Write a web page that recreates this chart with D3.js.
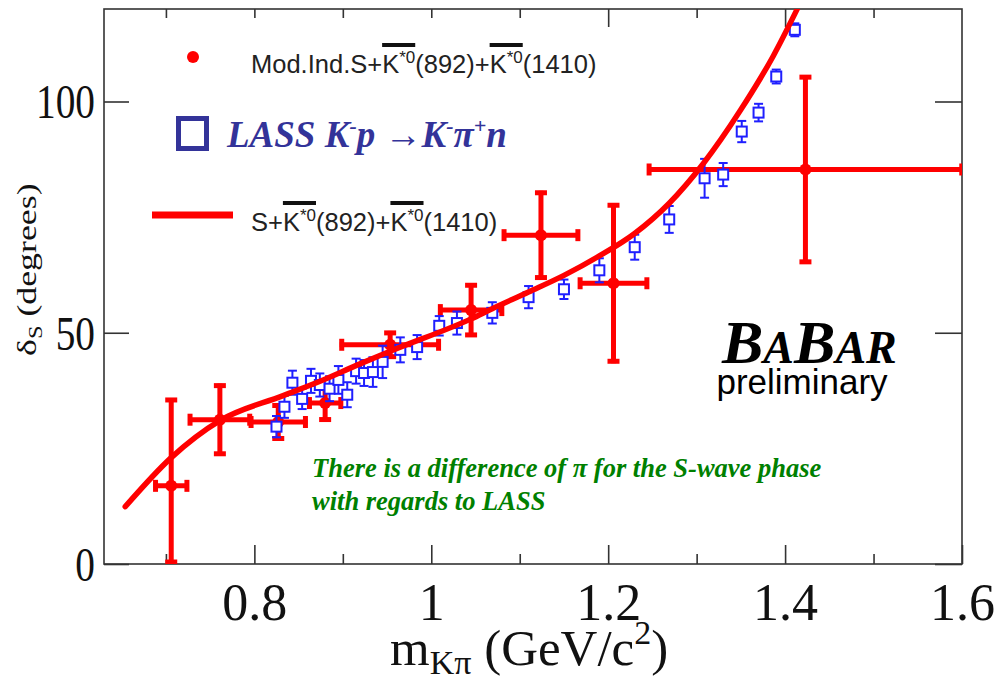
<!DOCTYPE html>
<html><head><meta charset="utf-8">
<script src="https://cdn.jsdelivr.net/npm/d3@7"></script>
<style>body{margin:0;background:#fff} svg{display:block}</style>
</head><body>
<svg id="c" width="998" height="684"></svg>
<script>
// ---------- data ----------
const xDomain = [0.63, 1.6];
const yDomain = [0, 120];
const xMajorTicks = [0.8, 1.0, 1.2, 1.4, 1.6];
const xTickLabels = ["0.8", "1", "1.2", "1.4", "1.6"];
const xMinorTicks = [0.7, 0.9, 1.1, 1.3, 1.5];
const topLongTicks = [1.2, 1.4];
const topShortTicks = [0.7, 0.8, 0.9, 1.0, 1.1, 1.3, 1.5];
const yTicks = [0, 50, 100];
const yTickLabels = ["0", "50", "100"];

// Model-independent S-wave phase (red points)
const modX    = [0.706, 0.761, 0.827, 0.880, 0.9535, 1.045, 1.124, 1.206, 1.423];
const modY    = [16.9, 31.2, 30.7, 34.8, 47.4, 54.9, 71.1, 60.7, 85.3];
const modXErr = [0.020, 0.036, 0.033, 0.020, 0.057, 0.037, 0.044, 0.040, 0.179];
const modYErr = [19.0, 7.8, 4.0, 4.0, 3.0, 5.8, 9.6, 17.3, 20.4];

// LASS K-p -> K-pi+n (blue open squares)
const lassX = [0.825, 0.834, 0.843, 0.854, 0.864, 0.874, 0.885, 0.895, 0.905, 0.915,
               0.924, 0.934, 0.945, 0.965, 0.984, 1.009, 1.029, 1.069, 1.110, 1.150,
               1.190, 1.230, 1.269, 1.309, 1.330, 1.351, 1.370, 1.390, 1.411];
const lassY = [29.7, 34.0, 39.2, 35.7, 39.6, 38.7, 37.9, 39.8, 36.6, 41.7,
               41.3, 41.5, 43.7, 46.3, 46.9, 51.5, 52.1, 54.3, 57.7, 59.4,
               63.5, 68.5, 74.5, 83.4, 84.2, 93.5, 97.6, 105.4, 115.5];
const lassYErr = [2.3, 2.4, 2.6, 2.2, 2.6, 2.5, 2.7, 3.0, 2.7, 2.7,
                  2.8, 3.2, 3.5, 2.7, 2.6, 2.1, 2.5, 2.3, 2.4, 2.1,
                  2.6, 2.7, 2.9, 4.2, 2.5, 2.3, 1.9, 1.5, 1.4];

// Fit S + K*0(892) + K*0(1410) (red curve)
const fitX = [0.654, 0.706, 0.761, 0.8325, 0.8777, 0.916, 0.9535, 1.045, 1.069, 1.110,
              1.150, 1.190, 1.2295, 1.269, 1.3076, 1.3495, 1.3868, 1.414];
const fitY = [12.4, 23.0, 31.0, 36.4, 39.8, 43.0, 46.0, 53.0, 55.2, 58.8,
              62.4, 66.6, 71.4, 78.0, 86.6, 98.1, 109.9, 120.1];

// ---------- drawing ----------
const svg = d3.select("#c");
const L = 104, R = 962, T = 9, B = 564;
const x = d3.scaleLinear().domain(xDomain).range([L, R]);
const y = d3.scaleLinear().domain(yDomain).range([B, T]);

const RED = "#ff0000", BLUE = "#1f1fff", DARK = "#333399", AX = "#333";
const serif = "'Liberation Serif','Times New Roman',serif";
const sans = "'Liberation Sans',Arial,sans-serif";

svg.append("defs").append("clipPath").attr("id", "plot")
  .append("rect").attr("x", L).attr("y", T).attr("width", R - L).attr("height", B - T);

// frame
svg.append("rect").attr("x", L).attr("y", T).attr("width", R - L).attr("height", B - T)
  .attr("fill", "none").attr("stroke", AX).attr("stroke-width", 1.6);

function styleTicks(g) {
  g.select(".domain").remove();
  g.selectAll(".tick line").attr("stroke", AX).attr("stroke-width", 1.6);
}

// bottom axis ticks (inward)
const gx = svg.append("g").attr("transform", `translate(0,${B})`)
  .call(d3.axisBottom(x).tickValues(xMajorTicks).tickSize(-19).tickFormat((d, i) => xTickLabels[i]));
styleTicks(gx);
gx.selectAll(".tick text").attr("font-family", serif).attr("font-size", 52)
  .attr("fill", "#111").attr("y", 56).attr("dy", 0);
svg.append("g").attr("transform", `translate(0,${B})`)
  .call(d3.axisBottom(x).tickValues(xMinorTicks).tickSize(-10).tickFormat(""))
  .call(styleTicks);

// top axis ticks
svg.append("g").attr("transform", `translate(0,${T})`)
  .call(d3.axisTop(x).tickValues(topLongTicks).tickSize(-18).tickFormat(""))
  .call(styleTicks);
svg.append("g").attr("transform", `translate(0,${T})`)
  .call(d3.axisTop(x).tickValues(topShortTicks).tickSize(-9).tickFormat(""))
  .call(styleTicks);

// left axis
const ySX = 0.82;
const gy = svg.append("g").attr("transform", `translate(${L},0)`)
  .call(d3.axisLeft(y).tickValues(yTicks).tickSize(-25).tickFormat((d, i) => yTickLabels[i]));
styleTicks(gy);
gy.selectAll(".tick text").attr("font-family", serif).attr("font-size", 48)
  .attr("fill", "#111").attr("x", -9 / ySX).attr("dy", "0.34em")
  .attr("transform", `scale(${ySX},1)`);
// right axis
svg.append("g").attr("transform", `translate(${R},0)`)
  .call(d3.axisRight(y).tickValues(yTicks).tickSize(-27).tickFormat(""))
  .call(styleTicks);

// axis titles
const xt = svg.append("text").attr("x", 390).attr("y", 665)
  .attr("font-family", serif).attr("font-size", 51).attr("fill", "#111");
xt.append("tspan").text("m");
xt.append("tspan").attr("font-size", 34).attr("dy", 9).text("Kπ");
xt.append("tspan").attr("dy", -9).text(" (GeV/c");
xt.append("tspan").attr("font-size", 34).attr("dy", -21).text("2");
xt.append("tspan").attr("dy", 21).text(")");

const yt = svg.append("text").attr("transform", "translate(36,356) rotate(-90) scale(1.28,1)")
  .attr("font-family", serif).attr("font-size", 28).attr("fill", "#111");
yt.append("tspan").text("δ");
yt.append("tspan").attr("font-size", 19).attr("dy", 6).text("S");
yt.append("tspan").attr("dy", -6).text(" (degrees)");

// ---------- plot content (clipped) ----------
const plot = svg.append("g").attr("clip-path", "url(#plot)");

// red model-independent points with error bars
const mg = plot.append("g").attr("stroke", RED).attr("fill", RED);
d3.range(modX.length).forEach(i => {
  const cx = x(modX[i]), cy = y(modY[i]);
  const x0 = x(modX[i] - modXErr[i]), x1 = x(modX[i] + modXErr[i]);
  const y0 = y(Math.max(0, modY[i] - modYErr[i])), y1 = y(modY[i] + modYErr[i]);
  mg.append("line").attr("x1", x0).attr("x2", x1).attr("y1", cy).attr("y2", cy).attr("stroke-width", 5);
  mg.append("line").attr("x1", cx).attr("x2", cx).attr("y1", y0).attr("y2", y1).attr("stroke-width", 5);
  // caps
  mg.append("line").attr("x1", x0 + 2).attr("x2", x0 + 2).attr("y1", cy - 6).attr("y2", cy + 6).attr("stroke-width", 5);
  mg.append("line").attr("x1", x1 - 2).attr("x2", x1 - 2).attr("y1", cy - 6).attr("y2", cy + 6).attr("stroke-width", 5);
  mg.append("line").attr("x1", cx - 6).attr("x2", cx + 6).attr("y1", y0 - 2).attr("y2", y0 - 2).attr("stroke-width", 5);
  mg.append("line").attr("x1", cx - 6).attr("x2", cx + 6).attr("y1", y1 + 2).attr("y2", y1 + 2).attr("stroke-width", 5);
  mg.append("circle").attr("cx", cx).attr("cy", cy).attr("r", 6).attr("stroke", "none");
});

// blue LASS points
const lg = plot.append("g").attr("stroke", BLUE).attr("stroke-width", 2);
d3.range(lassX.length).forEach(i => {
  const cx = x(lassX[i]), cy = y(lassY[i]);
  const y0 = y(lassY[i] - lassYErr[i]), y1 = y(lassY[i] + lassYErr[i]);
  lg.append("line").attr("x1", cx).attr("x2", cx).attr("y1", y0).attr("y2", y1);
  lg.append("line").attr("x1", cx - 4.5).attr("x2", cx + 4.5).attr("y1", y0).attr("y2", y0);
  lg.append("line").attr("x1", cx - 4.5).attr("x2", cx + 4.5).attr("y1", y1).attr("y2", y1);
  lg.append("rect").attr("x", cx - 5).attr("y", cy - 5).attr("width", 10).attr("height", 10)
    .attr("fill", "#fff");
});

// fit curve
const fitPts = d3.zip(fitX, fitY);
plot.append("path").datum(fitPts)
  .attr("d", d3.line().x(d => x(d[0])).y(d => y(d[1])).curve(d3.curveMonotoneX))
  .attr("fill", "none").attr("stroke", RED).attr("stroke-width", 5.5).attr("stroke-linecap", "round");

// ---------- legend ----------
function kbarText(xpos, ypos, parts) {
  const t = svg.append("text").attr("x", xpos).attr("y", ypos)
    .attr("font-family", sans).attr("font-size", 25.5).attr("fill", "#222");
  const bars = [];
  let idx = 0, pendingDy = 0;
  parts.forEach(p => {
    if (p === "K") {
      t.append("tspan").attr("dy", pendingDy).text("K");
      t.append("tspan").attr("font-size", 17).attr("dy", -10).text("*0");
      bars.push([idx, idx + 2]);
      idx += 3;
      pendingDy = 10;
    } else {
      t.append("tspan").attr("dy", pendingDy).text(p);
      pendingDy = 0;
      idx += p.length;
    }
  });
  const node = t.node();
  bars.forEach(([a, b]) => {
    const sx = node.getStartPositionOfChar(a).x;
    const ex = node.getEndPositionOfChar(b).x;
    svg.append("rect").attr("x", sx).attr("y", ypos - 30).attr("width", ex - sx).attr("height", 4).attr("fill", "#111");
  });
}
svg.append("circle").attr("cx", 193).attr("cy", 57).attr("r", 6).attr("fill", RED);
kbarText(251, 73, ["Mod.Ind.S+", "K", "(892)+", "K", "(1410)"]);

svg.append("rect").attr("x", 178.5).attr("y", 118.5).attr("width", 28).attr("height", 30)
  .attr("fill", "none").attr("stroke", DARK).attr("stroke-width", 5);
const lt = svg.append("text").attr("x", 227).attr("y", 147)
  .attr("font-family", serif).attr("font-size", 37).attr("font-weight", "bold")
  .attr("font-style", "italic").attr("fill", DARK);
lt.append("tspan").text("LASS K");
lt.append("tspan").attr("font-size", 22).attr("dy", -14).text("-");
lt.append("tspan").attr("dy", 14).text("p →K");
lt.append("tspan").attr("font-size", 22).attr("dy", -14).text("-");
lt.append("tspan").attr("dy", 14).text("π");
lt.append("tspan").attr("font-size", 22).attr("dy", -14).text("+");
lt.append("tspan").attr("dy", 14).text("n");

svg.append("line").attr("x1", 152).attr("x2", 233).attr("y1", 215).attr("y2", 215)
  .attr("stroke", RED).attr("stroke-width", 7);
kbarText(251, 231, ["S+", "K", "(892)+", "K", "(1410)"]);

// ---------- annotations ----------
const bb = svg.append("text").attr("x", 722).attr("y", 363)
  .attr("font-family", serif).attr("font-weight", "bold").attr("font-style", "italic")
  .attr("font-size", 62).attr("fill", "#000");
bb.append("tspan").text("B");
bb.append("tspan").attr("font-size", 46).text("A");
bb.append("tspan").text("B");
bb.append("tspan").attr("font-size", 46).text("AR");
svg.append("text").attr("x", 802).attr("y", 394).attr("text-anchor", "middle")
  .attr("font-family", sans).attr("font-size", 35).attr("fill", "#000").text("preliminary");

const gt = svg.append("g").attr("font-family", serif).attr("font-weight", "bold")
  .attr("font-style", "italic").attr("font-size", 26.5).attr("fill", "#008000");
gt.append("text").attr("x", 312).attr("y", 477).text("There is a difference of π for the S-wave phase");
gt.append("text").attr("x", 312).attr("y", 510).text("with regards to LASS");
</script>
</body></html>
